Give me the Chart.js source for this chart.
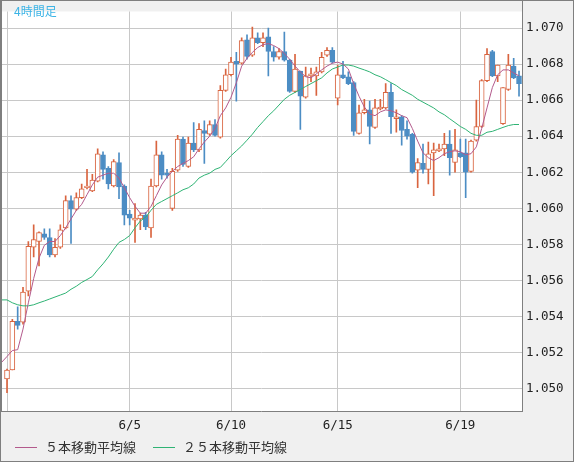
<!DOCTYPE html>
<html>
<head>
<meta charset="utf-8">
<script src="https://cdn.jsdelivr.net/npm/chart.js@4.4.1/dist/chart.umd.min.js"></script>
<style>
  html, body { margin: 0; padding: 0; background: #f0f0f0; overflow: hidden; }
  canvas { display: block; }
</style>
</head>
<body>
<canvas id="chart" width="574" height="462"></canvas>
<script>
const chartTitle = '4時間足';

// 4h bars
const opens = [1.05054, 1.05103, 1.05373, 1.05368, 1.05541, 1.05784, 1.05816, 1.05859, 1.05838, 1.05741,
  1.05784, 1.05892, 1.06043, 1.05995, 1.06059, 1.06114, 1.06097, 1.06151, 1.06297, 1.06222,
  1.06124, 1.06254, 1.06124, 1.05968, 1.05935, 1.05941, 1.05962, 1.05892, 1.06124, 1.06297,
  1.06195, 1.06000, 1.06211, 1.06384, 1.06232, 1.06362, 1.06324, 1.06432, 1.06411, 1.06465,
  1.06395, 1.06654, 1.06741, 1.06816, 1.06805, 1.06935, 1.06849, 1.06946, 1.06919, 1.06951,
  1.06870, 1.06838, 1.06870, 1.06822, 1.06649, 1.06762, 1.06616, 1.06735, 1.06735, 1.06757,
  1.06849, 1.06876, 1.06611, 1.06741, 1.06730, 1.06697, 1.06416, 1.06530, 1.06546, 1.06449,
  1.06551, 1.06557, 1.06643, 1.06497, 1.06508, 1.06438, 1.06411, 1.06211, 1.06249, 1.06216,
  1.06308, 1.06319, 1.06330, 1.06357, 1.06254, 1.06308, 1.06308, 1.06205, 1.06378, 1.06454,
  1.06708, 1.06870, 1.06735, 1.06470, 1.06659, 1.06789, 1.06735];
const highs = [1.05108, 1.05384, 1.05454, 1.05562, 1.05816, 1.05908, 1.05870, 1.05886, 1.05886, 1.05832,
  1.05908, 1.06070, 1.06070, 1.06086, 1.06135, 1.06216, 1.06189, 1.06330, 1.06314, 1.06232,
  1.06270, 1.06308, 1.06130, 1.05989, 1.06027, 1.05973, 1.05978, 1.06162, 1.06373, 1.06314,
  1.06216, 1.06222, 1.06405, 1.06395, 1.06395, 1.06476, 1.06470, 1.06486, 1.06486, 1.06492,
  1.06681, 1.06773, 1.06838, 1.06865, 1.06946, 1.06962, 1.07006, 1.06973, 1.06973, 1.07000,
  1.06897, 1.06886, 1.06978, 1.06827, 1.06854, 1.06762, 1.06784, 1.06778, 1.06784, 1.06865,
  1.06892, 1.06892, 1.06795, 1.06816, 1.06757, 1.06703, 1.06573, 1.06605, 1.06595, 1.06605,
  1.06605, 1.06692, 1.06692, 1.06546, 1.06514, 1.06486, 1.06416, 1.06276, 1.06357, 1.06368,
  1.06362, 1.06357, 1.06416, 1.06432, 1.06438, 1.06384, 1.06384, 1.06378, 1.06600, 1.06714,
  1.06886, 1.06876, 1.06795, 1.06670, 1.06854, 1.06832, 1.06762];
const lows = [1.04978, 1.05103, 1.05330, 1.05357, 1.05514, 1.05730, 1.05681, 1.05827, 1.05730, 1.05730,
  1.05778, 1.05886, 1.05805, 1.05989, 1.06054, 1.06108, 1.06092, 1.06146, 1.06162, 1.06108,
  1.06119, 1.06054, 1.05908, 1.05908, 1.05811, 1.05881, 1.05881, 1.05838, 1.06119, 1.06162,
  1.06168, 1.05989, 1.06205, 1.06232, 1.06227, 1.06314, 1.06314, 1.06249, 1.06405, 1.06400,
  1.06389, 1.06649, 1.06735, 1.06595, 1.06800, 1.06827, 1.06843, 1.06914, 1.06897, 1.06735,
  1.06816, 1.06827, 1.06816, 1.06643, 1.06643, 1.06438, 1.06611, 1.06703, 1.06627, 1.06751,
  1.06843, 1.06805, 1.06573, 1.06719, 1.06686, 1.06405, 1.06411, 1.06524, 1.06357, 1.06443,
  1.06546, 1.06551, 1.06416, 1.06422, 1.06351, 1.06384, 1.06195, 1.06114, 1.06195, 1.06135,
  1.06070, 1.06314, 1.06292, 1.06184, 1.06200, 1.06281, 1.06059, 1.06200, 1.06373, 1.06449,
  1.06703, 1.06730, 1.06703, 1.06465, 1.06654, 1.06719, 1.06622];
const closes = [1.05103, 1.05373, 1.05351, 1.05535, 1.05789, 1.05827, 1.05865, 1.05838, 1.05741, 1.05784,
  1.05881, 1.06043, 1.05995, 1.06059, 1.06108, 1.06124, 1.06157, 1.06303, 1.06216, 1.06135,
  1.06259, 1.06119, 1.05962, 1.05946, 1.05946, 1.05962, 1.05897, 1.06124, 1.06297, 1.06184,
  1.06184, 1.06205, 1.06384, 1.06243, 1.06362, 1.06324, 1.06438, 1.06416, 1.06465, 1.06405,
  1.06654, 1.06741, 1.06811, 1.06800, 1.06930, 1.06843, 1.06946, 1.06919, 1.06946, 1.06870,
  1.06838, 1.06870, 1.06822, 1.06649, 1.06773, 1.06622, 1.06735, 1.06746, 1.06757, 1.06838,
  1.06876, 1.06811, 1.06741, 1.06724, 1.06692, 1.06427, 1.06530, 1.06546, 1.06454, 1.06557,
  1.06562, 1.06643, 1.06508, 1.06508, 1.06432, 1.06400, 1.06200, 1.06254, 1.06216, 1.06303,
  1.06324, 1.06330, 1.06357, 1.06281, 1.06324, 1.06286, 1.06200, 1.06373, 1.06454, 1.06708,
  1.06854, 1.06735, 1.06795, 1.06670, 1.06795, 1.06724, 1.06692];

// moving averages, first value belongs to the bar just before the visible range
const ma5 = [1.05146, 1.05178, 1.05211, 1.05216, 1.05330, 1.05476, 1.05611, 1.05724, 1.05795, 1.05816,
  1.05816, 1.05849, 1.05892, 1.05941, 1.05989, 1.06022, 1.06076, 1.06130, 1.06173, 1.06184,
  1.06195, 1.06195, 1.06168, 1.06114, 1.06059, 1.06011, 1.05973, 1.05973, 1.06011, 1.06070,
  1.06130, 1.06173, 1.06205, 1.06232, 1.06249, 1.06265, 1.06286, 1.06330, 1.06368, 1.06400,
  1.06443, 1.06514, 1.06557, 1.06616, 1.06697, 1.06789, 1.06832, 1.06865, 1.06892, 1.06908,
  1.06914, 1.06903, 1.06886, 1.06859, 1.06827, 1.06789, 1.06757, 1.06730, 1.06724, 1.06746,
  1.06768, 1.06789, 1.06805, 1.06811, 1.06800, 1.06773, 1.06692, 1.06622, 1.06562, 1.06524,
  1.06514, 1.06535, 1.06546, 1.06541, 1.06530, 1.06514, 1.06503, 1.06443, 1.06373, 1.06308,
  1.06281, 1.06265, 1.06281, 1.06303, 1.06314, 1.06319, 1.06314, 1.06297, 1.06303, 1.06341,
  1.06443, 1.06557, 1.06670, 1.06741, 1.06768, 1.06768, 1.06751, 1.06735];
const ma25 = [1.05492, 1.05492, 1.05476, 1.05465, 1.05459, 1.05459, 1.05465, 1.05476, 1.05486, 1.05497,
  1.05508, 1.05519, 1.05530, 1.05551, 1.05568, 1.05589, 1.05605, 1.05622, 1.05659, 1.05692,
  1.05730, 1.05773, 1.05811, 1.05827, 1.05849, 1.05892, 1.05930, 1.05951, 1.05989, 1.06022,
  1.06038, 1.06054, 1.06070, 1.06086, 1.06103, 1.06114, 1.06135, 1.06168, 1.06184, 1.06195,
  1.06216, 1.06227, 1.06259, 1.06292, 1.06319, 1.06346, 1.06378, 1.06411, 1.06449, 1.06481,
  1.06514, 1.06541, 1.06573, 1.06605, 1.06627, 1.06643, 1.06659, 1.06676, 1.06692, 1.06708,
  1.06724, 1.06751, 1.06773, 1.06784, 1.06795, 1.06795, 1.06789, 1.06778, 1.06768, 1.06757,
  1.06741, 1.06730, 1.06714, 1.06697, 1.06681, 1.06659, 1.06643, 1.06627, 1.06605, 1.06589,
  1.06573, 1.06557, 1.06535, 1.06519, 1.06497, 1.06476, 1.06454, 1.06438, 1.06416, 1.06405,
  1.06405, 1.06422, 1.06427, 1.06438, 1.06449, 1.06459, 1.06465, 1.06465];

// date ticks: bar index -> label
const tickIndex = [0, 23, 42, 62, 85];
const tickText = ['', '6/5', '6/10', '6/15', '6/19'];

const UP = '#d9643f';
const DOWN = '#4c8dc4';
const gridColor = '#c8c8c8';
const monoFont = { family: '"DejaVu Sans Mono", monospace', size: 12.5 };

const idx = opens.map((o, i) => i);
const isUp = opens.map((o, i) => closes[i] >= o);

// panel background, frame, title and the legend row
const framePlugin = {
  id: 'frame',
  beforeDraw(chart) {
    const { ctx, chartArea: a } = chart;
    ctx.save();
    ctx.fillStyle = '#f0f0f0';
    ctx.fillRect(0, 0, chart.width, chart.height);
    ctx.fillStyle = '#ffffff';
    ctx.fillRect(a.left, a.top, a.right - a.left, a.bottom - a.top);
    ctx.restore();
  },
  afterDraw(chart) {
    const { ctx, chartArea: a } = chart;
    ctx.save();
    ctx.strokeStyle = '#7f7f7f';
    ctx.lineWidth = 1;
    ctx.strokeRect(0.5, 0.5, chart.width - 1, chart.height - 1);
    ctx.beginPath();
    ctx.moveTo(a.right + 0.5, 0);
    ctx.lineTo(a.right + 0.5, a.bottom + 1);
    ctx.moveTo(0, a.bottom + 0.5);
    ctx.lineTo(a.right + 1, a.bottom + 0.5);
    ctx.moveTo(1.5, 0);
    ctx.lineTo(1.5, a.bottom);
    ctx.stroke();

    ctx.fillStyle = '#3cb4e6';
    ctx.font = '12px "Noto Sans CJK JP"';
    ctx.textBaseline = 'middle';
    ctx.fillText(chartTitle, 14, 11);

    // legend
    ctx.font = '13px "Noto Sans CJK JP"';
    let x = 15;
    chart.data.datasets.filter(d => d.type === 'line').forEach(d => {
      ctx.strokeStyle = d.borderColor;
      ctx.beginPath();
      ctx.moveTo(x, 447.5);
      ctx.lineTo(x + 22, 447.5);
      ctx.stroke();
      ctx.fillStyle = '#333';
      ctx.fillText(d.label, x + 30, 447);
      x += 30 + ctx.measureText(d.label).width + 17;
    });
    ctx.restore();
  }
};

new Chart(document.getElementById('chart'), {
  type: 'bar',
  data: {
    datasets: [
      {
        type: 'line',
        label: '５本移動平均線',
        data: ma5.map((v, k) => ({ x: k - 1, y: v })),
        borderColor: '#b35a8c',
        backgroundColor: '#b35a8c',
        borderWidth: 1,
        pointRadius: 0,
        tension: 0,
        order: 0
      },
      {
        type: 'line',
        label: '２５本移動平均線',
        data: ma25.map((v, k) => ({ x: k - 1, y: v })),
        borderColor: '#2fb374',
        backgroundColor: '#2fb374',
        borderWidth: 1,
        pointRadius: 0,
        tension: 0,
        order: 1
      },
      {
        label: 'body',
        data: idx.map(i => ({ x: i, y: [opens[i], closes[i]] })),
        backgroundColor: isUp.map(u => u ? '#ffffff' : DOWN),
        borderColor: isUp.map(u => u ? UP : DOWN),
        borderWidth: 1,
        borderSkipped: false,
        barThickness: 5,
        maxBarThickness: 5,
        grouped: false,
        order: 2
      },
      {
        label: 'wick',
        data: idx.map(i => ({ x: i, y: [lows[i], highs[i]] })),
        backgroundColor: isUp.map(u => u ? UP : DOWN),
        borderWidth: 0,
        barThickness: 1,
        maxBarThickness: 1,
        grouped: false,
        order: 3
      }
    ]
  },
  options: {
    responsive: false,
    devicePixelRatio: 1,
    animation: false,
    events: [],
    layout: { padding: { top: 1, left: 1, right: 0, bottom: 0 } },
    scales: {
      x: {
        type: 'linear',
        min: -1.125,
        max: 96.56,
        offset: false,
        grid: { color: gridColor, offset: false, drawTicks: false },
        border: { display: false },
        afterBuildTicks: s => { s.ticks = tickIndex.map(v => ({ value: v })); },
        afterFit: s => { s.height = 51; },
        ticks: {
          autoSkip: false,
          maxRotation: 0,
          padding: 7,
          color: '#222',
          font: monoFont,
          callback: v => {
            const k = tickIndex.indexOf(v);
            return k < 0 ? null : tickText[k];
          }
        }
      },
      y: {
        position: 'right',
        min: 1.048757,
        max: 1.070919,
        grid: { color: gridColor, drawTicks: false },
        border: { display: false },
        afterFit: s => { s.width = 52; },
        ticks: {
          stepSize: 0.002,
          includeBounds: false,
          padding: 4,
          color: '#222',
          font: monoFont,
          callback: v => v.toFixed(3)
        }
      }
    },
    plugins: {
      tooltip: { enabled: false },
      legend: { display: false }
    }
  },
  plugins: [framePlugin]
});
</script>
</body>
</html>
